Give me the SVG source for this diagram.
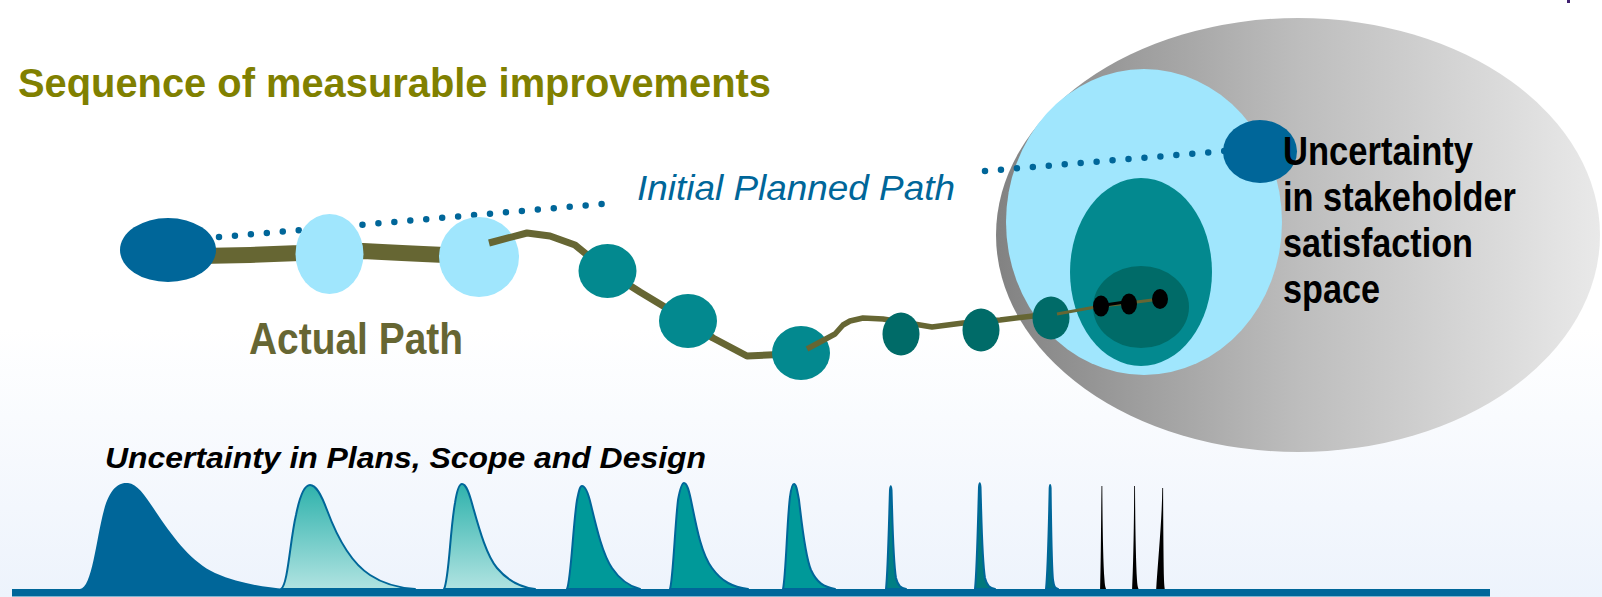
<svg xmlns="http://www.w3.org/2000/svg" width="1602" height="597" viewBox="0 0 1602 597">
<defs>
  <linearGradient id="bg" x1="0" y1="0" x2="0" y2="1">
    <stop offset="0" stop-color="#ffffff"/>
    <stop offset="0.55" stop-color="#ffffff"/>
    <stop offset="1" stop-color="#edf3fc"/>
  </linearGradient>
  <linearGradient id="grey" gradientUnits="userSpaceOnUse" x1="996" y1="0" x2="1600" y2="0">
    <stop offset="0" stop-color="#828282"/>
    <stop offset="0.5" stop-color="#bdbdbd"/>
    <stop offset="1" stop-color="#e9e9e9"/>
  </linearGradient>
  <linearGradient id="peakfade" x1="0" y1="0" x2="0" y2="1">
    <stop offset="0" stop-color="#2fb2ac"/>
    <stop offset="1" stop-color="#b0e3e1"/>
  </linearGradient>
  <style>
    .olive { fill: none; stroke: #666633; stroke-linejoin: round; }
    .dots { fill: none; stroke: #006699; stroke-width: 6.5; stroke-linecap: round; stroke-dasharray: 0 16; }
    .blue { fill: #006699; }
    .lblue { fill: #a0e6fd; }
    .teal { fill: #03898f; }
    .dteal { fill: #006b68; }
    .blk { fill: #000000; }
    .peak { stroke: #006699; stroke-width: 2; stroke-linejoin: round; }
    .t { font-family: "Liberation Sans", Arial, sans-serif; }
  </style>
</defs>

<rect x="0" y="0" width="1602" height="597" fill="url(#bg)"/>
<rect x="1567" y="0" width="3" height="3" fill="#402070"/>

<g id="satisfaction-space">
  <ellipse cx="1298" cy="235" rx="302" ry="217" fill="url(#grey)"/>
  <ellipse cx="1144" cy="222" rx="138" ry="153" class="lblue"/>
  <ellipse cx="1141" cy="272" rx="71" ry="94" class="teal"/>
  <ellipse cx="1141" cy="307" rx="48" ry="41" class="dteal"/>
</g>

<g id="connectors">
  <path class="olive" stroke-width="16" d="M 200 256 L 250 255 L 300 253 Q 330 251 363 251 Q 400 253 445 255"/>
  <path class="dots" d="M 219 237 L 602 204"/>
  <path class="dots" d="M 985 171 L 1225 151"/>
</g>

<g id="node-start"><ellipse cx="168" cy="250" rx="48" ry="32" class="blue"/></g>
<g id="node-lb1"><ellipse cx="329.5" cy="254" rx="34" ry="40" class="lblue"/></g>
<g id="node-lb2"><ellipse cx="479" cy="257" rx="40" ry="40" class="lblue"/></g>

<g id="connectors-2">
  <path class="olive" stroke-width="7" d="M 489 243 L 527 233 L 550 236 L 575 245 L 607 271 L 640 292 L 688 321 L 713 338 L 747 356 L 790 354"/>
</g>

<g id="node-t1"><ellipse cx="607.5" cy="271" rx="29" ry="27" class="teal"/></g>
<g id="node-t2"><ellipse cx="688" cy="321" rx="29" ry="27" class="teal"/></g>
<g id="node-t3"><ellipse cx="801" cy="353" rx="29" ry="27" class="teal"/></g>

<g id="connectors-3">
  <path class="olive" stroke-width="5.5" d="M 807 349 L 835 334 L 843 325 L 850 321 L 863 318 L 883 319 L 920 325 L 932 327 L 963 323 L 1000 320 L 1033 316 L 1051 316"/>
</g>

<g id="node-d1"><ellipse cx="901" cy="334" rx="18.5" ry="21.5" class="dteal"/></g>
<g id="node-d2"><ellipse cx="981" cy="330" rx="18.5" ry="21.5" class="dteal"/></g>
<g id="node-d3"><ellipse cx="1051" cy="318" rx="18.5" ry="21.5" class="dteal"/></g>

<g id="connectors-4">
  <path class="olive" stroke-width="3" d="M 1057 314 L 1101 306 L 1129 303 L 1160 299"/>
  <path fill="none" stroke="#000" stroke-width="3" d="M 1105 305 L 1125 302"/>
</g>

<g id="node-b1"><ellipse cx="1101" cy="306" rx="8" ry="10.5" class="blk"/></g>
<g id="node-b2"><ellipse cx="1129" cy="304" rx="8" ry="10.5" class="blk"/></g>
<g id="node-b3"><ellipse cx="1160" cy="299" rx="8" ry="10" class="blk"/></g>

<g id="node-goal"><ellipse cx="1260" cy="151.5" rx="37" ry="31.5" class="blue"/></g>

<g id="labels">
  <text class="t" x="18" y="97" font-size="40" font-weight="bold" fill="#808000" textLength="753" lengthAdjust="spacingAndGlyphs">Sequence of measurable improvements</text>
  <text class="t" x="637" y="200" font-size="35" font-style="italic" fill="#006699" textLength="318" lengthAdjust="spacingAndGlyphs">Initial Planned Path</text>
  <text class="t" x="249" y="354" font-size="45" font-weight="bold" fill="#666633" textLength="214" lengthAdjust="spacingAndGlyphs">Actual Path</text>
  <text class="t" x="105" y="468" font-size="29" font-weight="bold" font-style="italic" fill="#000" textLength="601" lengthAdjust="spacingAndGlyphs">Uncertainty in Plans, Scope and Design</text>
  <text class="t" font-size="41" font-weight="bold" fill="#000">
    <tspan x="1283" y="165" textLength="190" lengthAdjust="spacingAndGlyphs">Uncertainty</tspan>
    <tspan x="1283" y="211" textLength="233" lengthAdjust="spacingAndGlyphs">in stakeholder</tspan>
    <tspan x="1283" y="257" textLength="190" lengthAdjust="spacingAndGlyphs">satisfaction</tspan>
    <tspan x="1283" y="303" textLength="97" lengthAdjust="spacingAndGlyphs">space</tspan>
  </text>
</g>

<g id="distributions">
  <path fill="#006699" d="M 80 589 C 92 588 96 540 104 510 C 110 487 120 482 128 483 C 138 484 146 497 158 515 C 175 540 192 562 215 573 C 240 584 265 587 285 589 Z"/>
  <path class="peak" fill="url(#peakfade)" d="M 281 589 C 288 585 290 540 296 515 C 300 495 305 485 310 485 C 316 485 321 494 327 510 C 337 537 350 562 370 575 C 385 585 400 588 415 589 Z"/>
  <path class="peak" fill="url(#peakfade)" d="M 444 589 C 449 580 450 530 455 503 C 457 490 459 484 462 484 C 466 484 469 492 473 507 C 480 532 487 556 497 568 C 507 580 520 587 535 589 Z"/>
  <path class="peak" fill="#009999" d="M 567 589 C 571 580 573 525 577 500 C 579 490 580 486 582 486 C 585 486 588 492 591 505 C 597 530 603 555 612 568 C 620 580 628 586 640 589 Z"/>
  <path class="peak" fill="#009999" d="M 670 589 C 673 580 675 525 678 500 C 680 489 682 483 684 483 C 687 483 689 490 692 505 C 697 530 702 555 712 568 C 722 582 733 587 748 589 Z"/>
  <path class="peak" fill="#009999" d="M 783 589 C 786 575 787 520 790 497 C 791 489 792 484 794 484 C 796 484 797 489 799 500 C 802 525 805 556 811 570 C 817 583 824 587 835 589 Z"/>
  <path class="peak" stroke-width="1.5" fill="#007f84" d="M 886 589 C 888 570 889 520 890 490 C 890.5 485 891 485 891.5 490 C 892.5 520 893 560 896 578 C 898 586 901 588 906 589 Z"/>
  <path class="peak" stroke-width="1.5" fill="#00787c" d="M 975 589 C 977 570 978 520 979 487 C 979.5 482 980 482 980.5 487 C 981.5 520 982 560 985 578 C 987 586 990 588 995 589 Z"/>
  <path class="peak" stroke-width="1.5" fill="#006e88" d="M 1046 589 C 1048 570 1049 520 1049.7 488 C 1050 484 1050.3 484 1050.6 488 C 1051 520 1051.5 565 1053 580 C 1054 587 1055 588 1058 589 Z"/>
  <path fill="#000" d="M 1100 592 C 1101 560 1101 520 1101.5 486 L 1102.3 486 C 1102.5 520 1103 560 1104.5 580 C 1105 588 1106 590 1109 591 Z"/>
  <path fill="#000" d="M 1132 591 C 1133.5 560 1134 520 1134.2 486 L 1135 486 C 1135.2 520 1135.8 560 1137 580 C 1137.5 588 1138.5 590 1141 591 Z"/>
  <path fill="#000" d="M 1156 592 C 1158 560 1162 520 1162.3 488 L 1163.1 488 C 1163.2 520 1163.5 560 1164 580 C 1164.3 588 1165 591 1166 592 Z"/>
  <rect x="12" y="589" width="1478" height="7" fill="#006699"/>
  <rect x="12" y="596" width="1478" height="1" fill="#7fb5d0"/>
</g>
</svg>
